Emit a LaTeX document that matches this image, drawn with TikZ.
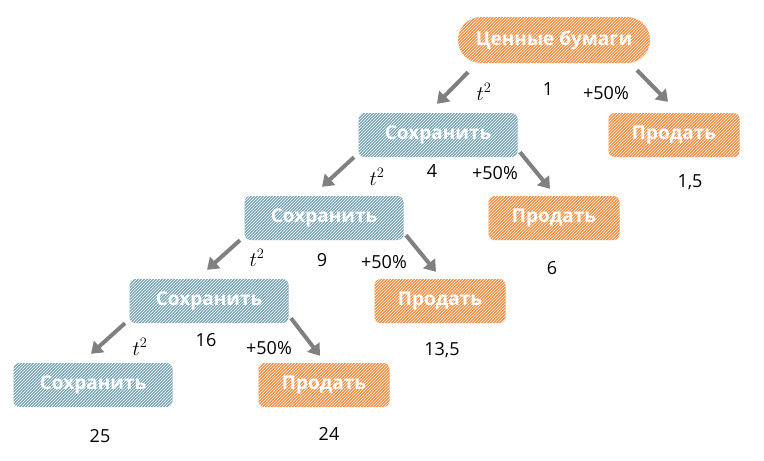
\documentclass[tikz,border=0pt]{standalone}
\usepackage{fontspec}
\setmainfont{Open Sans}
\usetikzlibrary{calc,patterns,arrows.meta}
\definecolor{bl}{HTML}{7BA7B8}
\definecolor{or}{HTML}{F98C3E}
\tikzset{
 box/.style={rounded corners=6pt,minimum width=159pt,minimum height=44pt,fill=bl,text=white,font=\fontsize{19}{22}\selectfont\bfseries,
   postaction={pattern=north east lines,pattern color=white,fill opacity=0.08}},
 obox/.style={box,fill=or,minimum width=131pt},
 arr/.style={draw=gray,line width=4pt,-{Triangle[length=11pt,width=15pt]}},
 lab/.style={font=\fontsize{18}{20}\selectfont},
 tl/.style={font=\fontsize{21}{24}\selectfont}
}
\begin{document}
\begin{tikzpicture}[x=1pt,y=-1pt]
\useasboundingbox (0,0) rectangle (764,461);
\node[obox,minimum width=192pt,minimum height=46pt,rounded corners=23pt] (r) at (554,40) {Ценные бумаги};
\node[obox] (p1) at (674,135) {Продать};
\node[box] (s1) at (438,135) {Сохранить};
\node[obox] (p2) at (554,218) {Продать};
\node[box] (s2) at (324,218) {Сохранить};
\node[obox] (p3) at (440,301) {Продать};
\node[box] (s3) at (209,301) {Сохранить};
\node[box] (s4) at (93,385) {Сохранить};
\node[obox] (p4) at (324,385) {Продать};
\draw[arr] ($(r.south)+(-86,9)$) -- ($(s1.north)+(-1,-9)$);
\draw[arr] ($(r.south)+(83,7)$) -- ($(p1.north)+(-6,-11)$);
\foreach \a/\b/\c in {s1/s2/p2,s2/s3/p3,s3/s4/p4}{
 \draw[arr] ($(\a.south)+(-84,0)$) -- ($(\b.north)+(-2,-9)$);
 \draw[arr] ($(\a.south)+(82,-5)$) -- ($(\c.north)+(-4,-7)$);
}
\node[tl] (ta) at (484,92) {$t^2$};
\node[lab] (n1) at (548,89) {1};
\node[lab] (q1) at (606,93) {+50\%};
\node[lab] (v1) at (690,182) {1,5};
\node[tl] (tb) at (377,177) {$t^2$};
\node[lab] (n2) at (432,171) {4};
\node[lab] (q2) at (495,173) {+50\%};
\node[lab] (v2) at (552,268) {6};
\node[tl] (tc) at (257,258) {$t^2$};
\node[lab] (n3) at (322,260) {9};
\node[lab] (q3) at (384,262) {+50\%};
\node[lab] (v3) at (442,350) {13,5};
\node[tl] (td) at (140,347) {$t^2$};
\node[lab] (n4) at (206,340) {16};
\node[lab] (q4) at (269,348) {+50\%};
\node[lab] (v4) at (100,436) {25};
\node[lab] (v5) at (329,434) {24};
\end{tikzpicture}
\end{document}
